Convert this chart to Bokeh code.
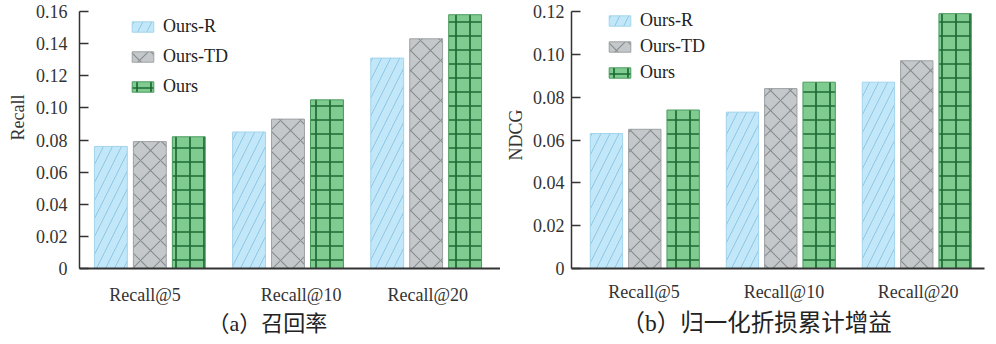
from bokeh.plotting import figure
from bokeh.layouts import row
from bokeh.models import Range1d, FixedTicker, Legend, LegendItem, Title, PrintfTickFormatter
from bokeh.embed import file_html
from bokeh.resources import INLINE

# ---------------- data ----------------
categories = ["Recall@5", "Recall@10", "Recall@20"]
series_names = ["Ours-R", "Ours-TD", "Ours"]

recall_ours_r = [0.076, 0.085, 0.131]
recall_ours_td = [0.079, 0.093, 0.143]
recall_ours = [0.082, 0.105, 0.158]

ndcg_ours_r = [0.063, 0.073, 0.087]
ndcg_ours_td = [0.065, 0.084, 0.097]
ndcg_ours = [0.074, 0.087, 0.119]

recall_ticks = [0, 0.02, 0.04, 0.06, 0.08, 0.10, 0.12, 0.14, 0.16]
recall_tick_labels = ["0", "0.02", "0.04", "0.06", "0.08", "0.10", "0.12", "0.14", "0.16"]
ndcg_ticks = [0, 0.02, 0.04, 0.06, 0.08, 0.10, 0.12]
ndcg_tick_labels = ["0", "0.02", "0.04", "0.06", "0.08", "0.10", "0.12"]

caption_a = "（a）召回率"
caption_b = "（b）归一化折损累计增益"

# ---------------- styles ----------------
SERIF = "Liberation Serif"
CAP_FONT = "Liberation Serif, Noto Sans CJK SC"
STYLES = [
    dict(fill_color="#c2e7f8", line_color="#a3d4ec", hatch_pattern="/",
         hatch_color="#8cc8e6", hatch_scale=18, hatch_weight=1.0),
    dict(fill_color="#c4c8ca", line_color="#9da1a3", hatch_pattern="x",
         hatch_color="#868b8e", hatch_scale=20, hatch_weight=1.1),
    dict(fill_color="#80cb90", line_color="#4a9a5e", hatch_pattern="+",
         hatch_color="#1c6a34", hatch_scale=14, hatch_weight=1.7),
]
BAR_W = 0.238
BAR_STEP = 0.282


def make_chart(series, ticks, tick_labels, y_label, caption, x_start, x_end, width,
               border_left, border_right, legend_loc, legend_spacing, label_shift,
               x_standoff, y_standoff, ylab_offset, ylab_standoff,
               cap_offset, cap_standoff, cap_size):
    p = figure(width=width, height=344, output_backend="svg", toolbar_location=None,
               x_range=Range1d(x_start, x_end), y_range=Range1d(0, ticks[-1]),
               min_border_left=border_left, min_border_right=border_right,
               min_border_top=11, min_border_bottom=76)
    p.outline_line_color = None
    p.xgrid.grid_line_color = None
    p.ygrid.grid_line_color = None
    p.background_fill_color = "white"
    p.border_fill_color = "white"

    items = []
    n = len(series)
    for i, (vals, st, name) in enumerate(zip(series, STYLES, series_names)):
        xs = [k + 0.5 + (i - (n - 1) / 2) * BAR_STEP for k in range(len(categories))]
        r = p.vbar(x=xs, top=vals, width=BAR_W, line_width=1, **st)
        items.append(LegendItem(label=name, renderers=[r]))

    legend = Legend(items=items, location=legend_loc, glyph_width=27, glyph_height=13,
                    label_height=20, spacing=legend_spacing, padding=0, margin=0,
                    border_line_color=None, background_fill_alpha=0,
                    label_text_font=SERIF, label_text_font_size="18px",
                    label_standoff=7, label_text_color="#222222")
    p.add_layout(legend)

    # x axis
    xa = p.xaxis[0]
    tick_pos = [k + 0.5 + label_shift[k] for k in range(len(categories))]
    xa.ticker = FixedTicker(ticks=tick_pos)
    xa.major_label_overrides = {t: c for t, c in zip(tick_pos, categories)}
    xa.major_tick_in = 0
    xa.major_tick_out = 0
    xa.minor_tick_line_color = None
    xa.axis_line_width = 2
    xa.axis_line_color = "#333333"
    xa.major_label_text_font = SERIF
    xa.major_label_text_font_size = "18px"
    xa.major_label_text_color = "#333333"
    xa.major_label_standoff = x_standoff

    # y axis
    ya = p.yaxis[0]
    ya.ticker = FixedTicker(ticks=ticks)
    ya.formatter = PrintfTickFormatter(format="%.2f")
    ya.major_label_overrides = {t: l for t, l in zip(ticks, tick_labels)}
    ya.major_tick_in = 9
    ya.major_tick_out = 0
    ya.major_tick_line_width = 1.5
    ya.major_tick_line_color = "#333333"
    ya.minor_tick_line_color = None
    ya.axis_line_width = 1.5
    ya.axis_line_color = "#333333"
    ya.major_label_text_font = SERIF
    ya.major_label_text_font_size = "18px"
    ya.major_label_text_color = "#333333"
    ya.major_label_standoff = y_standoff

    p.add_layout(Title(text=y_label, align="left", offset=ylab_offset, standoff=ylab_standoff,
                       text_font=SERIF, text_font_size="18px", text_font_style="normal",
                       text_color="#333333"), "left")
    p.add_layout(Title(text=caption, align="left", offset=cap_offset, standoff=cap_standoff,
                       text_font=CAP_FONT, text_font_size=cap_size, text_font_style="normal",
                       text_color="#222222"), "below")
    return p


p1 = make_chart([recall_ours_r, recall_ours_td, recall_ours], recall_ticks, recall_tick_labels,
                "Recall", caption_a, -0.009, 3.038, 500, 78, 0, (50, 171), 9,
                [-0.035, 0.095, 0.012], 16, 12, 128, 10, 128, 2, "22px")
p2 = make_chart([ndcg_ours_r, ndcg_ours_td, ndcg_ours], ndcg_ticks, ndcg_tick_labels,
                "NDCG", caption_b, -0.039, 2.998, 496, 64, 12, (35, 185), 5,
                [-0.006, 0.023, 0.01], 13, 7, 108, 7, 50, 6, "23.5px")

layout = row(p1, p2)
open("out.html", "w").write(file_html(layout, INLINE))
